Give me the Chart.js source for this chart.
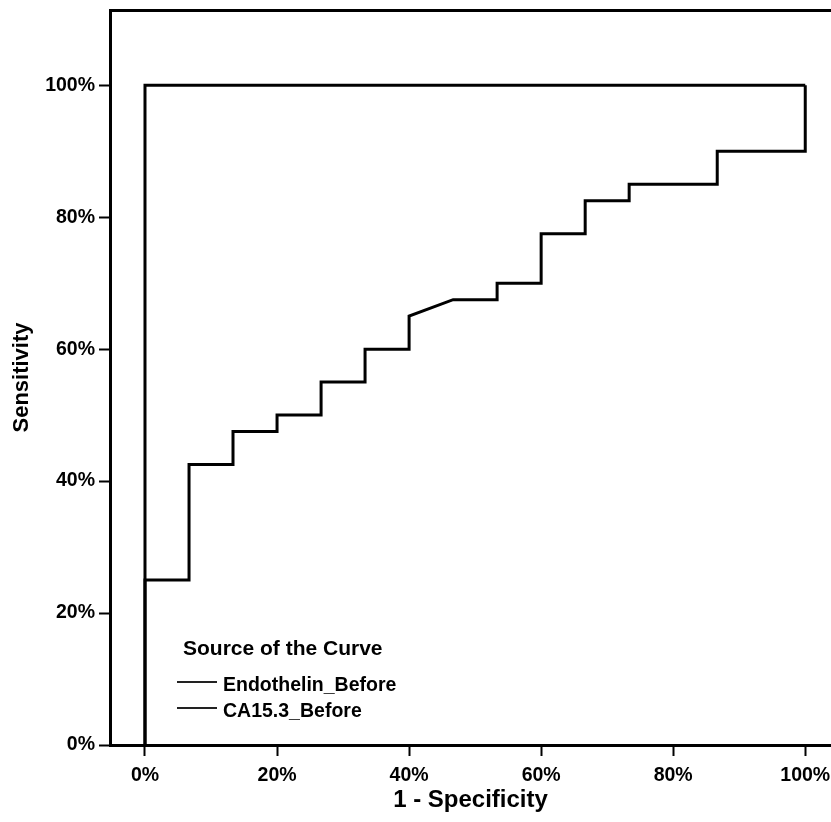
<!DOCTYPE html>
<html>
<head>
<meta charset="utf-8">
<script src="https://cdn.jsdelivr.net/npm/chart.js@4"></script>
<style>
body { margin: 0; background: #fff; }
#wrap { position: relative; width: 831px; height: 822px; }
#legend { position: absolute; left: 0; top: 0; font-family: "Liberation Sans", Arial, sans-serif; font-weight: bold; color: #000; }
#legend .ttl { position: absolute; left: 183px; top: 636px; font-size: 21px; line-height: 24px; white-space: nowrap; }
#legend .item { position: absolute; left: 223px; font-size: 19.5px; line-height: 22px; white-space: nowrap; }
#legend .ln { position: absolute; left: 177px; width: 40px; height: 2px; background: #222; }
</style>
</head>
<body>
<div id="wrap">
<canvas id="myChart" width="831" height="822"></canvas>
<div id="legend"></div>
</div>
<script>
// ROC curves, values in percent
var endoFpr = [0, 0, 100];
var endoTpr = [0, 100, 100];
var caFpr = [0, 0, 6.67, 6.67, 13.33, 13.33, 20, 20, 26.67, 26.67, 33.33, 33.33, 40, 40, 46.67, 53.33, 53.33, 60, 60, 66.67, 66.67, 73.33, 73.33, 86.67, 86.67, 100, 100];
var caTpr = [0, 25, 25, 42.5, 42.5, 47.5, 47.5, 50, 50, 55, 55, 60, 60, 65, 67.5, 67.5, 70, 70, 77.5, 77.5, 82.5, 82.5, 85, 85, 90, 90, 100];
var seriesNames = ["Endothelin_Before", "CA15.3_Before"];
var xTicks = [0, 20, 40, 60, 80, 100];
var yTicks = [0, 20, 40, 60, 80, 100];

function toPoints(xs, ys) {
    return xs.map(function (x, i) { return { x: x, y: ys[i] }; });
}

Chart.defaults.font.family = '"Liberation Sans", Arial, sans-serif';
Chart.defaults.font.weight = 'bold';
Chart.defaults.color = '#000';

function renderChart() {
    var ctx = document.getElementById("myChart").getContext('2d');
    var myChart = new Chart(ctx, {
        type: 'scatter',
        data: {
            datasets: [{
                label: seriesNames[0],
                data: toPoints(endoFpr, endoTpr),
                showLine: true,
                borderColor: '#000',
                borderWidth: 3,
                pointRadius: 0,
                fill: false
            }, {
                label: seriesNames[1],
                data: toPoints(caFpr, caTpr),
                showLine: true,
                borderColor: '#000',
                borderWidth: 3,
                pointRadius: 0,
                fill: false
            }]
        },
        options: {
            responsive: false,
            animation: false,
            devicePixelRatio: 1,
            layout: { padding: 0 },
            plugins: { legend: { display: false }, tooltip: { enabled: false } },
            scales: {
                x: {
                    type: 'linear',
                    position: 'bottom',
                    min: -5.3,
                    max: 103.9,
                    afterBuildTicks: function (s) { s.ticks = xTicks.map(function (v) { return { value: v }; }); },
                    afterFit: function (s) { s.height = 77; s.paddingRight = 0; s.paddingLeft = 0; },
                    grid: { drawOnChartArea: false, drawTicks: true, tickLength: 11, tickWidth: 2, tickColor: '#000' },
                    border: { color: '#000', width: 3 },
                    ticks: { font: { size: 19.5, weight: 'bold' }, padding: 8, maxRotation: 0, callback: function (v) { return v + '%'; } },
                    title: { display: true, text: '1 - Specificity', font: { size: 24, weight: 'bold' }, padding: { top: 0, bottom: 7 } }
                },
                x2: {
                    type: 'linear',
                    position: 'top',
                    afterFit: function (s) { s.height = 10; },
                    grid: { drawOnChartArea: false, drawTicks: false },
                    border: { color: '#000', width: 3 },
                    ticks: { display: false }
                },
                y: {
                    type: 'linear',
                    min: 0,
                    max: 111.4,
                    afterBuildTicks: function (s) { s.ticks = yTicks.map(function (v) { return { value: v }; }); },
                    afterFit: function (s) { s.width = 110; s.paddingTop = 0; s.paddingBottom = 0; },
                    grid: { drawOnChartArea: false, drawTicks: true, tickLength: 11, tickWidth: 2, tickColor: '#000' },
                    border: { color: '#000', width: 3 },
                    ticks: { font: { size: 19.5, weight: 'bold' }, padding: 4, callback: function (v) { return v + '%'; } },
                    title: { display: true, text: 'Sensitivity', font: { size: 22, weight: 'bold' }, padding: { top: 9, bottom: 0 } }
                }
            }
        }
    });

    // legend inside the plot, like the SPSS output
    var lg = document.getElementById('legend');
    var html = '<div class="ttl">Source of the Curve</div>';
    myChart.data.datasets.forEach(function (ds, i) {
        html += '<div class="ln" style="top:' + (681 + i * 26) + 'px"></div>';
        html += '<div class="item" style="top:' + (673 + i * 26) + 'px">' + ds.label + '</div>';
    });
    lg.innerHTML = html;
}

renderChart();
</script>
</body>
</html>
